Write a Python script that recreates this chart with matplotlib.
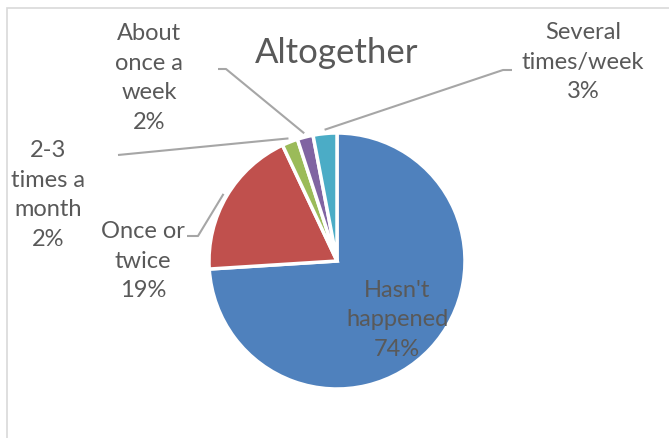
import numpy as np
import matplotlib.pyplot as plt
from matplotlib.patches import Rectangle

labels = ["Hasn't\nhappened", "Once or\ntwice", "2-3\ntimes a\nmonth", "About\nonce a\nweek", "Several\ntimes/week"]
values = [74, 19, 2, 2, 3]
colors = ['#4F81BD', '#C0504D', '#9BBB59', '#8064A2', '#4BACC6']

W, H = 669, 439
plt.rcParams['font.family'] = ['Lato', 'DejaVu Sans']
txt = '#595959'
lead = '#A6A6A6'
fs = 17
ls = 1.5

fig = plt.figure(figsize=(W / 100, H / 100), dpi=100)
ax = fig.add_axes([0, 0, 1, 1])

# chart area border
ax.add_patch(Rectangle((6.5, -10), W + 10, H - 8.5 + 10, fill=False, ec='#D9D9D9', lw=1.2))

cx, cy, r = 337, H - 262, 128
wedges, _ = ax.pie(values, colors=colors, startangle=90, counterclock=False,
                   center=(cx, cy), radius=r, frame=True,
                   wedgeprops=dict(edgecolor='white', linewidth=2.5))
ax.set_xlim(0, W)
ax.set_ylim(0, H)
ax.set_aspect('equal')
ax.axis('off')

ax.text(337, H - 53, 'Altogether', ha='center', va='center', fontsize=25, color=txt)

def pct(v):
    return '{}%'.format(v)

# inside label
ax.text(397, H - 320, labels[0] + '\n' + pct(values[0]), ha='center', va='center',
        fontsize=fs, color=txt, linespacing=ls)

# outside labels: (text x, text y, elbow points)
outside = {
    1: ((143, 261), [(198, 237), (187, 237)]),
    2: ((48, 195), [(118, 156)]),
    3: ((149, 78), [(226, 70), (218, 70)]),
    4: ((583, 62), [(503, 71), (512, 71)]),
}
for i, ((tx, ty), pts) in outside.items():
    w = wedges[i]
    th = np.deg2rad((w.theta1 + w.theta2) / 2)
    ax0 = cx + r * 1.03 * np.cos(th)
    ay0 = cy + r * 1.03 * np.sin(th)
    xs = [ax0] + [p[0] for p in pts]
    ys = [ay0] + [H - p[1] for p in pts]
    ax.plot(xs, ys, color=lead, lw=1.5, solid_capstyle='butt')
    ax.text(tx, H - ty, labels[i] + '\n' + pct(values[i]), ha='center', va='center',
            fontsize=fs, color=txt, linespacing=ls)

fig.savefig('out.png', dpi=100)
